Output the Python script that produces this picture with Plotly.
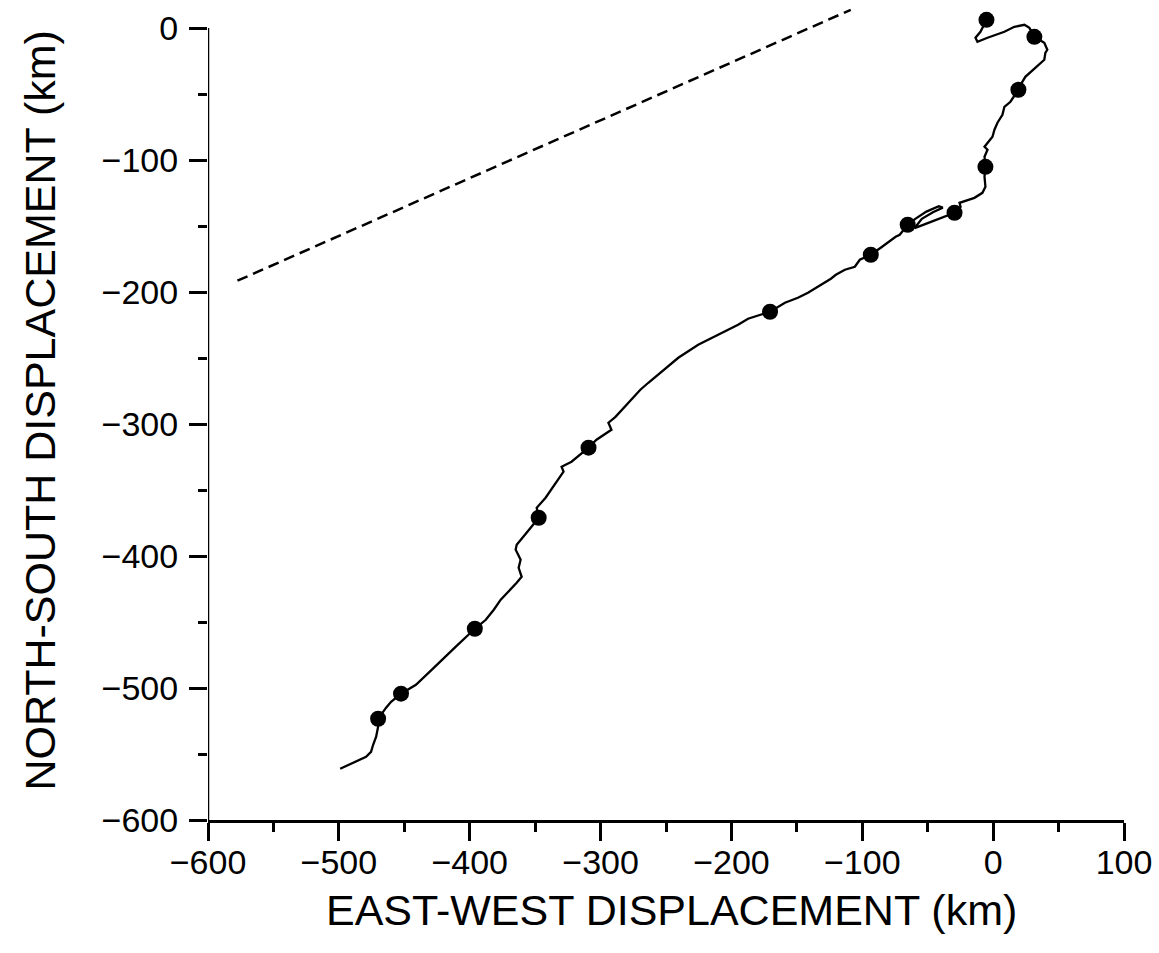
import plotly.graph_objects as go

# Drifter track (km), ordered from release point to end
track_x = [-5.1, -8.2, -9.7, -13.5, -12.0, -4.3, 8.6, 16.2, 23.9, 27.7, 31.5, 39.1, 41.4, 39.9, 39.1,
           32.2, 24.6, 22.3, 19.3, 13.2, 8.6, 7.1, 3.3, 1.0, -0.5, -6.6, -4.3, -6.6, -5.9, -6.6,
           -5.9, -8.2, -14.3, -25.7, -24.9, -29.5, -37.1, -43.0, -52.0, -60.0, -54.5, -46.0, -38.5,
           -41.5, -51.0, -59.5, -65.3, -71.4, -74.5, -85.9, -93.5, -101.9, -105.7, -113.3, -120.2,
           -124.0, -133.9, -141.5, -149.2, -159.1, -170.5, -177.4, -187.3, -194.9, -210.1, -225.4,
           -240.6, -252.0, -263.5, -269.6, -278.7, -288.6, -294.0, -291.7, -303.1, -309.2, -322.2,
           -329.8, -328.3, -335.9, -342.0, -348.8, -347.3, -353.4, -364.1, -364.9, -361.1, -362.6,
           -360.3, -364.1, -376.3, -381.6, -387.7, -396.1, -402.2, -410.6, -428.9, -441.1, -452.5,
           -460.1, -463.9, -470.0, -470.0, -471.5, -473.8, -475.4, -479.2, -499.0]
track_y = [6.3, 0.2, -2.8, -7.3, -10.4, -7.3, -2.8, 1.0, 2.5, 0.2, -6.6, -11.1, -16.4, -18.7, -24.0,
           -30.1, -36.9, -40.7, -46.7, -55.8, -59.6, -65.7, -71.7, -77.0, -82.3, -89.9, -92.2, -97.5,
           -105.1, -112.6, -120.2, -124.8, -128.6, -132.4, -135.4, -139.9, -142.9, -145.5, -148.5,
           -151.5, -144.5, -139.5, -136.0, -135.0, -139.0, -144.5, -149.0, -156.6, -158.1, -166.4,
           -171.7, -175.5, -180.8, -183.1, -186.9, -189.9, -196.0, -200.5, -204.3, -208.1, -214.9,
           -217.2, -220.2, -224.8, -232.3, -239.9, -249.8, -258.9, -268.7, -274.0, -283.9, -294.5,
           -299.0, -304.3, -311.9, -317.9, -328.5, -332.3, -336.1, -347.5, -355.8, -363.4, -371.0,
           -378.6, -391.5, -395.2, -402.8, -408.9, -415.7, -420.2, -433.1, -440.7, -448.3, -455.1,
           -461.1, -468.7, -486.1, -497.5, -504.3, -510.4, -514.9, -523.3, -529.3, -536.9, -543.0,
           -548.3, -552.1, -561.2]

# Daily positions (dots)
dot_x = [-5.1, 31.5, 19.3, -5.9, -29.5, -65.3, -93.5, -170.5, -309.2, -347.3, -396.1, -452.5, -470.0]
dot_y = [6.3, -6.6, -46.7, -105.1, -139.9, -149.0, -171.7, -214.9, -317.9, -371.0, -455.1, -504.3, -523.3]

# Dashed reference line (mean direction)
ref_x = [-577.5, -108.8]
ref_y = [-191.4, 13.9]

x_ticks = [-600, -500, -400, -300, -200, -100, 0, 100]
y_ticks = [-600, -500, -400, -300, -200, -100, 0]

FONT = "Liberation Sans, Arial, sans-serif"

fig = go.Figure()
fig.add_trace(go.Scatter(x=ref_x, y=ref_y, mode="lines",
                         line=dict(color="black", width=2.5, dash="11px,6px"), showlegend=False))
fig.add_trace(go.Scatter(x=track_x, y=track_y, mode="lines",
                         line=dict(color="black", width=2.3), showlegend=False))
fig.add_trace(go.Scatter(x=dot_x, y=dot_y, mode="markers",
                         marker=dict(color="black", size=16), showlegend=False, cliponaxis=False))

fig.update_layout(
    width=1159, height=953,
    margin=dict(l=208, r=32, t=7, b=133),
    paper_bgcolor="white", plot_bgcolor="white",
    font=dict(family=FONT, color="black"),
    xaxis=dict(range=[-600, 100], tickvals=x_ticks, ticks="outside", ticklen=18, tickwidth=2.5,
               tickcolor="black", showline=True, linecolor="black", linewidth=2.5,
               showgrid=False, zeroline=False, tickfont=dict(size=34), ticklabelstandoff=-8,
               minor=dict(dtick=50, ticks="outside", ticklen=9, tickwidth=2.5, tickcolor="black", showgrid=False)),
    yaxis=dict(range=[-600, 16], tickvals=y_ticks, ticks="outside", ticklen=18, tickwidth=2.5,
               tickcolor="black", showline=False, showgrid=False, zeroline=False,
               tickfont=dict(size=34), ticklabelstandoff=4,
               minor=dict(tickvals=[-550, -450, -350, -250, -150, -50], ticks="outside", ticklen=9,
                          tickwidth=2.5, tickcolor="black", showgrid=False)),
    shapes=[dict(type="line", xref="x", yref="y", x0=-600, x1=-600, y0=-600, y1=0,
                 line=dict(color="black", width=2.5))],
    annotations=[
        dict(text="EAST-WEST DISPLACEMENT (km)", xref="paper", yref="paper", x=0.506, y=-0.111,
             xanchor="center", yanchor="middle", showarrow=False, font=dict(size=43)),
        dict(text="NORTH-SOUTH DISPLACEMENT (km)", xref="paper", yref="paper", x=-0.183, y=0.504,
             xanchor="center", yanchor="middle", showarrow=False, textangle=-90, font=dict(size=43)),
    ],
)

fig.write_html("out.html")
